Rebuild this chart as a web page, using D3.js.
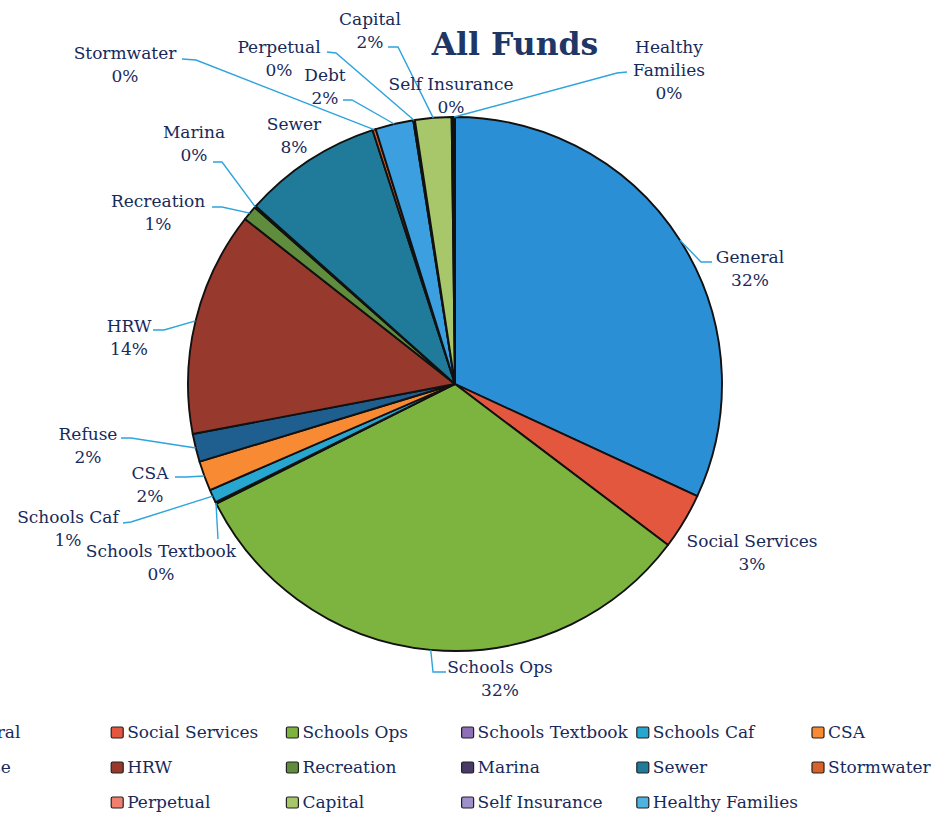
<!DOCTYPE html>
<html>
<head>
<meta charset="utf-8">
<script src="https://cdn.jsdelivr.net/npm/d3@7"></script>
<style>
  html, body { margin: 0; padding: 0; background: #ffffff; }
  svg { display: block; }
  text { font-family: "DejaVu Serif", "Liberation Serif", serif; fill: #182a5a; }
</style>
</head>
<body>
<svg id="chart" width="937" height="817"></svg>
<script>
// Fund names, in slice order (clockwise from 12 o'clock)
const categories = [
  "General", "Social Services", "Schools Ops", "Schools Textbook", "Schools Caf", "CSA",
  "Refuse", "HRW", "Recreation", "Marina", "Sewer", "Stormwater",
  "Debt", "Perpetual", "Capital", "Self Insurance", "Healthy Families"
];
// Share of all funds, percent
const shares = [
  31.9, 3.4, 32.3, 0.1, 0.8, 1.8,
  1.7, 13.6, 0.9, 0.1, 8.4, 0.2,
  2.3, 0.1, 2.2, 0.1, 0.1
];
const sliceColors = [
  "#2b8fd6", "#e4573f", "#7db33f", "#8e6fb8", "#27a6cf", "#f78a33",
  "#1e5f8f", "#973a2d", "#5f8c3d", "#4a3a68", "#1f7b99", "#d9622a",
  "#3b9fe0", "#f07f70", "#a8c76b", "#9e90ca", "#4fb2df"
];

const svg = d3.select("#chart");
const cx = 455, cy = 384, R = 267;
const leaderColor = "#2ea4dc";
const fontSize = 17;

// Title
svg.append("text")
  .attr("x", 515).attr("y", 55)
  .attr("text-anchor", "middle")
  .attr("font-size", 31.5)
  .attr("font-weight", "bold")
  .style("fill", "#1f3766")
  .text("All Funds");

// Pie
const pie = d3.pie().sort(null).value(d => d.v).startAngle(0).endAngle(2 * Math.PI);
const rows = categories.map((c, i) => ({ name: c, v: shares[i], color: sliceColors[i] }));
const arcs = pie(rows);
const total = d3.sum(shares);
const arc = d3.arc().innerRadius(0).outerRadius(R);

const g = svg.append("g").attr("transform", `translate(${cx},${cy})`);
g.selectAll("path.slice")
  .data(arcs)
  .join("path")
  .attr("class", "slice")
  .attr("d", arc)
  .attr("fill", d => d.data.color)
  .attr("stroke", "#111")
  .attr("stroke-width", 1.9)
  .attr("stroke-linejoin", "round");

// Label placement: text center x, first baseline y, and leader path points near the text
const labelLayout = {
  "General":          { x: 750, y: 263, leader: [[712, 262], [701, 262]] },
  "Social Services":  { x: 752, y: 547, leader: null },
  "Schools Ops":      { x: 500, y: 673, leader: [[446, 672], [433, 672]] },
  "Schools Textbook": { x: 161, y: 557, leader: [[218, 539]] },
  "Schools Caf":      { x: 68,  y: 523, leader: [[123, 523], [131, 522]] },
  "CSA":              { x: 150, y: 479, leader: [[175, 477], [186, 477]] },
  "Refuse":           { x: 88,  y: 440, leader: [[121, 438], [131, 438]] },
  "HRW":              { x: 129, y: 332, leader: [[153, 330], [164, 330]] },
  "Recreation":       { x: 158, y: 207, leader: [[212, 207], [222, 207]] },
  "Marina":           { x: 194, y: 138, leader: [[213, 162], [222, 162]] },
  "Sewer":            { x: 294, y: 130, leader: null },
  "Stormwater":       { x: 125, y: 59,  leader: [[182, 59], [196, 60]] },
  "Debt":             { x: 325, y: 81,  leader: [[343, 100], [352, 100]] },
  "Perpetual":        { x: 279, y: 53,  leader: [[327, 52], [336, 53]] },
  "Capital":          { x: 370, y: 25,  leader: [[388, 47], [398, 47]] },
  "Self Insurance":   { x: 451, y: 90,  leader: null },
  "Healthy Families": { x: 669, y: 53,  leader: [[627, 72], [617, 73]], lines: ["Healthy", "Families"] }
};
const lineGap = 23;

const labels = svg.append("g");
arcs.forEach(a => {
  const name = a.data.name;
  const L = labelLayout[name];
  const mid = (a.startAngle + a.endAngle) / 2;
  const edge = [cx + R * Math.sin(mid), cy - R * Math.cos(mid)];

  if (L.leader) {
    const pts = L.leader.concat([edge]);
    labels.append("path")
      .attr("d", d3.line()(pts))
      .attr("fill", "none")
      .attr("stroke", leaderColor)
      .attr("stroke-width", 1.4);
  }

  const lines = (L.lines || [name]).concat([Math.round(a.data.v / total * 100) + "%"]);
  const t = labels.append("text")
    .attr("text-anchor", "middle")
    .attr("font-size", fontSize);
  lines.forEach((s, i) => {
    t.append("tspan")
      .attr("x", L.x)
      .attr("y", L.y + i * lineGap)
      .text(s);
  });
});

// Legend: six columns, three rows (the first column starts left of the visible area)
const legendCols = 6;
const colStep = 175.2;
const legendX0 = -64;
const rowY = [738, 773, 808];
const legend = svg.append("g");
rows.forEach((d, i) => {
  const col = i % legendCols, row = Math.floor(i / legendCols);
  const x = legendX0 + col * colStep;
  const y = rowY[row];
  legend.append("rect")
    .attr("x", x).attr("y", y - 11)
    .attr("width", 12).attr("height", 11)
    .attr("rx", 1.5)
    .attr("fill", d.color)
    .attr("stroke", "#222")
    .attr("stroke-width", 1.2);
  legend.append("text")
    .attr("x", x + 16).attr("y", y)
    .attr("font-size", fontSize)
    .text(d.name);
});
</script>
</body>
</html>
